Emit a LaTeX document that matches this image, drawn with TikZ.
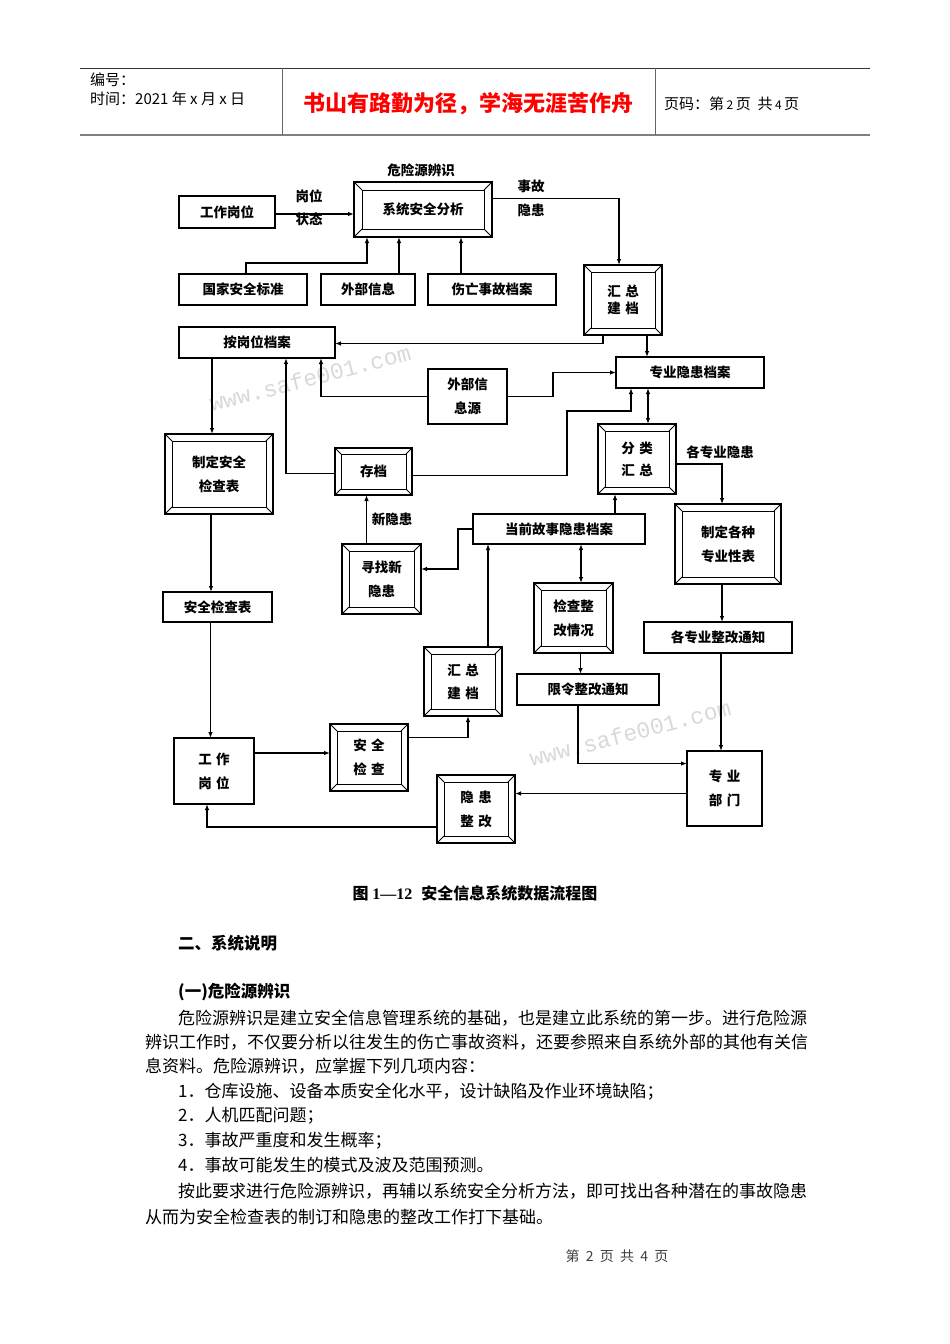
\documentclass[tikz,border=0pt]{standalone}
\usepackage{fontspec}
\setmainfont{Liberation Serif}
\newfontfamily\cjk{Noto Sans CJK SC}
\newfontfamily\wmfont{Liberation Mono}
\usetikzlibrary{arrows.meta,calc}
\newcommand\dfont{\cjk\bfseries\fontsize{13.5}{24}\selectfont}
\tikzset{
  plain/.style={draw, line width=1.3pt, inner sep=0pt, outer sep=0pt, align=center, font=\dfont},
  bevel/.style={draw, line width=1.8pt, inner sep=0pt, outer sep=0pt, align=center, font=\dfont},
  bevline/.style={line width=1pt},
  arr/.style={line width=1.1pt, -{Latex[length=6pt,width=4.5pt]}},
  darr/.style={line width=1.1pt, {Latex[length=6pt,width=4.5pt]}-{Latex[length=6pt,width=4.5pt]}},
  lbl/.style={font=\dfont, inner sep=0pt},
  body/.style={font=\cjk\fontsize{17}{17}\selectfont, inner sep=0pt, anchor=west},
  bodyb/.style={font=\cjk\bfseries\fontsize{16.5}{16.5}\selectfont, inner sep=0pt, anchor=west},
  wm/.style={rotate=14.5, text=black!15, font=\wmfont\fontsize{23}{23}\selectfont, inner sep=0pt},
  hdr/.style={font=\cjk\fontsize{15}{15}\selectfont, inner sep=0pt, anchor=west},
}
\newcommand\bxP[6]{\node[plain, minimum width={(#4-#2)*1pt}, minimum height={(#5-#3)*1pt}] (#1) at ({(#2+#4)/2},{(#3+#5)/2}) {#6};}
\newcommand\bxB[7]{%
  \node[bevel, minimum width={(#4-#2)*1pt}, minimum height={(#5-#3)*1pt}] (#1) at ({(#2+#4)/2},{(#3+#5)/2}) {#7};
  \draw[bevline] ([shift={(#6pt,-#6pt)}]#1.north west) rectangle ([shift={(-#6pt,#6pt)}]#1.south east);
  \draw[bevline] (#1.north west) -- ++(#6pt,-#6pt) (#1.north east) -- ++(-#6pt,-#6pt)
                 (#1.south west) -- ++(#6pt,#6pt) (#1.south east) -- ++(-#6pt,#6pt);}
\begin{document}
\begin{tikzpicture}[x=1pt,y=-1pt]
\useasboundingbox (0,0) rectangle (950,1344);
\fill[white] (0,0) rectangle (950,1344);

% ---------- header ----------
\draw[line width=0.8pt, black!80] (80,68) -- (870,68);
\draw[line width=2pt, black!50] (80,135) -- (870,135);
\draw[line width=0.8pt, black!60] (282,68) -- (282,135);
\draw[line width=0.8pt, black!60] (655,68) -- (655,135);
\node[hdr] (h1) at (90,80) {编号：};
\node[hdr] (h2) at (90,99) {时间：2021 年 x 月 x 日};
\node[font=\cjk\bfseries\fontsize{22}{22}\selectfont, text=red, inner sep=0pt] (h3) at (468,104) {书山有路勤为径，学海无涯苦作舟};
\node[hdr] (h4) at (664,104) {页码：第\,{\fontsize{12}{12}\selectfont 2}\,页\ \ 共\,{\fontsize{12}{12}\selectfont 4}\,页};

% ---------- watermarks ----------
\node[wm] (wm1) at (310,378) {www.safe001.com};
\node[wm] (wm2) at (630,733) {www.safe001.com};

% ---------- boxes ----------
\bxP{gw1}{179}{196}{275}{228}{工作岗位}
\bxB{xt}{354}{182}{492}{237}{8}{系统安全分析}
\bxP{gj}{179}{274}{307}{305}{国家安全标准}
\bxP{wb}{321}{274}{415}{305}{外部信息}
\bxP{sw}{428}{274}{556}{305}{伤亡事故档案}
\bxB{hzA}{584}{265}{662}{335}{7}{汇\,\,总\\[-7pt]建\,\,档}
\bxP{agw}{179}{327}{335}{358}{按岗位档案}
\bxP{zyda}{616}{357}{764}{388}{专业隐患档案}
\bxP{wbx}{428}{369}{507}{424}{外部信\\息源}
\bxB{zdaq}{165}{434}{273}{514}{7}{制定安全\\检查表}
\bxB{cd}{335}{448}{412}{495}{6}{存档}
\bxB{fl}{598}{424}{676}{494}{7}{分\,\,类\\[-2pt]汇\,\,总}
\bxP{dq}{473}{514}{645}{544}{当前故事隐患档案}
\bxB{zdgz}{675}{504}{781}{584}{7}{制定各种\\专业性表}
\bxB{xz}{342}{544}{421}{614}{7}{寻找新\\隐患}
\bxP{aqb}{163}{592}{272}{622}{安全检查表}
\bxB{jc}{534}{583}{613}{653}{7}{检查整\\改情况}
\bxP{gzy}{644}{622}{792}{653}{各专业整改通知}
\bxB{hzB}{424}{647}{502}{716}{7}{汇\,\,总\\[-1pt]建\,\,档}
\bxP{xl}{517}{674}{659}{705}{限令整改通知}
\bxP{gw2}{174}{738}{254}{804}{工\,\,作\\岗\,\,位}
\bxB{aqjc}{330}{724}{408}{791}{7}{安\,\,全\\检\,\,查}
\bxB{yhzg}{437}{775}{515}{843}{7}{隐\,\,患\\整\,\,改}
\bxP{zybm}{687}{751}{762}{826}{专\,\,业\\部\,\,门}

% ---------- free labels ----------
\node[lbl] (l0) at (421,170) {危险源辨识};
\node[lbl] (l1) at (309,196) {岗位};
\node[lbl] (l2) at (309,219) {状态};
\node[lbl] (l3) at (531,186) {事故};
\node[lbl] (l4) at (531,210) {隐患};
\node[lbl] (l5) at (720,452) {各专业隐患};
\node[lbl] (l6) at (392,519) {新隐患};

% ---------- connectors ----------
\coordinate (k1) at (567,411);
\draw[arr] ([yshift=-2pt]gw1.east) -- ([yshift=-2pt]gw1.east -| xt.west);
\draw[arr] ([yshift=11pt]xt.east) -| ([xshift=-4pt]hzA.north);
\draw[arr] ([xshift=3pt]gj.north) -- ++(0,-11) -| ([xshift=-56pt]xt.south);
\draw[arr] ([xshift=31pt]wb.north) -- ([xshift=31pt]wb.north |- xt.south);
\draw[arr] ([xshift=-31pt]sw.north) -- ([xshift=-31pt]sw.north |- xt.south);
\draw[arr] ([xshift=-20pt]hzA.south) |- ([yshift=-1pt]agw.east);
\draw[arr] ([xshift=24pt]hzA.south) -- ([xshift=24pt]hzA.south |- zyda.north);
\draw[arr] (wbx.west) -| ([xshift=64pt]agw.south);
\draw[arr] (wbx.east) -- ++(46,0) |- (zyda.west);
\draw[arr] ([yshift=-2pt]cd.west) -| ([xshift=29pt]agw.south);
\draw[arr] ([yshift=-4pt]cd.east) -| (k1) -| ([xshift=-59pt]zyda.south);
\draw[darr] ([xshift=-42pt]zyda.south) -- ([xshift=-42pt]zyda.south |- fl.north);
\draw[arr] ([yshift=-5pt]fl.east) -| ([xshift=-6pt]zdgz.north);
\draw[arr] ([xshift=-6pt]zdgz.south) -- ([xshift=-6pt]zdgz.south |- gzy.north);
\draw[arr] ([xshift=3pt]gzy.south) -- ([xshift=3pt]gzy.south |- zybm.north);
\draw[arr] ([xshift=56pt]dq.north) -- ([xshift=56pt]dq.north |- fl.south);
\draw[arr] (dq.west) -- ++(-15,0) |- ([yshift=10pt]xz.east);
\draw[arr] ([xshift=-15pt]xz.north) -- ([xshift=-15pt]xz.north |- cd.south);
\draw[arr] ([xshift=-45pt]agw.south) -- ([xshift=-45pt]agw.south |- zdaq.north);
\draw[arr] ([xshift=-8pt]zdaq.south) -- ([xshift=-8pt]zdaq.south |- aqb.north);
\draw[arr] ([xshift=-7pt]aqb.south) -- ([xshift=-7pt]aqb.south |- gw2.north);
\draw[darr] ([xshift=22pt]dq.south) -- ([xshift=22pt]dq.south |- jc.north);
\draw[arr] ([xshift=7pt]jc.south) -- ([xshift=7pt]jc.south |- xl.north);
\draw[arr] ([xshift=25pt]hzB.north) -- ([xshift=25pt]hzB.north |- dq.south);
\draw[arr] ([yshift=18pt]gw2.east) -- ([yshift=18pt]gw2.east -| aqjc.west);
\draw[arr] ([yshift=20pt]aqjc.east) -| ([xshift=5pt]hzB.south);
\draw[arr] ([xshift=-10pt]xl.south) |- ([yshift=25pt]zybm.west);
\draw[arr] ([yshift=-5pt]zybm.west) -- ([yshift=-5pt]zybm.west -| yhzg.east);
\draw[arr] ([yshift=-18pt]yhzg.west) -| ([xshift=-7pt]gw2.south);

% ---------- caption and body ----------
\node[font=\cjk\bfseries\fontsize{16}{16}\selectfont, inner sep=0pt] (cap) at (475,893) {图 {\rmfamily\bfseries 1—12}\,\, 安全信息系统数据流程图};
\node[bodyb] (t1) at (178,943) {二、系统说明};
\node[bodyb] (t2) at (178,992) {(一)危险源辨识};
\node[body] (p1) at (178,1018) {危险源辨识是建立安全信息管理系统的基础，也是建立此系统的第一步。进行危险源};
\node[body] (p2) at (145,1042) {辨识工作时，不仅要分析以往发生的伤亡事故资料，还要参照来自系统外部的其他有关信};
\node[body] (p3) at (145,1066) {息资料。危险源辨识，应掌握下列几项内容：};
\node[body] (i1) at (178,1092) {1．仓库设施、设备本质安全化水平，设计缺陷及作业环境缺陷；};
\node[body] (i2) at (178,1116) {2．人机匹配问题；};
\node[body] (i3) at (178,1141) {3．事故严重度和发生概率；};
\node[body] (i4) at (178,1165) {4．事故可能发生的模式及波及范围预测。};
\node[body] (p4) at (178,1191) {按此要求进行危险源辨识，再辅以系统安全分析方法，即可找出各种潜在的事故隐患};
\node[body] (p5) at (145,1217) {从而为安全检查表的制订和隐患的整改工作打下基础。};
\node[font=\cjk\fontsize{14}{14}\selectfont, text=black!75, inner sep=0pt] (ft) at (617,1256) {第\ \ 2\ \ 页\ \ 共\ \ 4\ \ 页};
\end{tikzpicture}
\end{document}
